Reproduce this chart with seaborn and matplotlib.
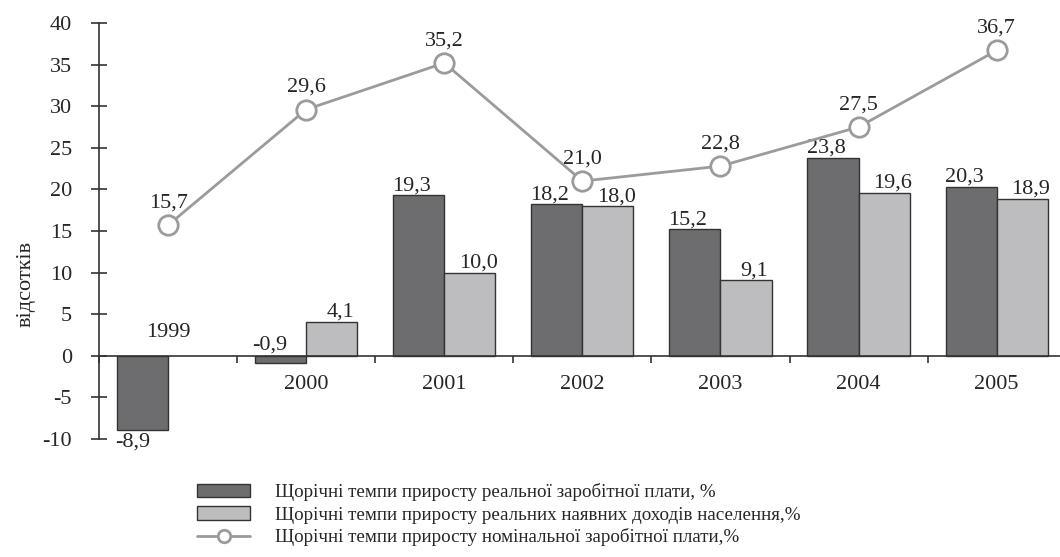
import numpy as np
import pandas as pd
import seaborn as sns
import matplotlib.pyplot as plt

years = ["1999", "2000", "2001", "2002", "2003", "2004", "2005"]
real_wage = [-8.9, -0.9, 19.3, 18.2, 15.2, 23.8, 20.3]
real_income = [np.nan, 4.1, 10.0, 18.0, 9.1, 19.6, 18.9]
nominal_wage = [15.7, 29.6, 35.2, 21.0, 22.8, 27.5, 36.7]

lbl_wage = "Щорічні темпи приросту реальної заробітної плати, %"
lbl_income = "Щорічні темпи приросту реальних наявних доходів населення,%"
lbl_nominal = "Щорічні темпи приросту номінальної заробітної плати,%"

dark = "#6c6d71"
light = "#bcbdc0"
line_c = "#9a9b9d"
edge = "#333333"

sns.set_style("white")
plt.rcParams['font.family'] = ['Liberation Serif', 'DejaVu Serif']
plt.rcParams['font.size'] = 16
plt.rcParams['axes.unicode_minus'] = False

def fmt(v):
	return f"{v:.1f}".replace(".", ",")

df = pd.DataFrame({
	"year": years * 2,
	"value": real_wage + real_income,
	"series": [lbl_wage] * len(years) + [lbl_income] * len(years),
})

fig = plt.figure(figsize=(10.6, 5.57), dpi=100)
ax = fig.add_axes([0.0934, 0.2118, 0.912, 0.7469])

sns.barplot(data=df, x="year", y="value", hue="series", palette=[dark, light],
			width=0.74, edgecolor=edge, linewidth=1.0, legend=False, ax=ax)
sns.lineplot(x=np.arange(len(years)), y=nominal_wage, color=line_c, linewidth=2,
			 marker="o", markersize=14, markerfacecolor="white",
			 markeredgecolor=line_c, markeredgewidth=2, legend=False, ax=ax, zorder=5)
nom_line = [l for l in ax.get_lines() if l.get_marker() == "o"][0]

# bar value labels
for k, cont in enumerate(ax.containers[:2]):
	dx = -5 if k == 0 else 6
	for p in cont.patches:
		h = p.get_height()
		if np.isnan(h):
			continue
		x = p.get_x() + p.get_width() / 2
		if h < -2:
			ax.annotate(fmt(h), (x, h), xytext=(dx - 2, -2), textcoords="offset points",
						ha="center", va="top")
		elif h < 0:
			ax.annotate(fmt(h), (x, 0), xytext=(dx - 3, 1), textcoords="offset points",
						ha="center", va="bottom")
		else:
			ax.annotate(fmt(h), (x, h), xytext=(dx, 0), textcoords="offset points",
						ha="center", va="bottom")

# line labels
for i, v in enumerate(nominal_wage):
	ax.annotate(fmt(v), (i, v), xytext=(0, 16), textcoords="offset points",
				ha="center", va="center")

# category labels
for i, y in enumerate(years):
	ax.text(i, 2.8 if i == 0 else -3.5, y, ha="center", va="center")

ax.set_ylim(-10, 40)
ax.set_xlim(-0.5, 6.5)
ax.set_yticks(range(-10, 41, 5))
ax.set_xticks(np.arange(-0.5, 6.6, 1))
ax.set_xticklabels([])
ax.set_xlabel("")
ax.set_ylabel("відсотків", fontsize=16)
ax.yaxis.set_label_coords(-0.066, 0.373)

for s in ["top", "right"]:
	ax.spines[s].set_visible(False)
ax.spines["bottom"].set_position(("data", 0))
ax.spines["bottom"].set_color(edge)
ax.spines["left"].set_color(edge)
ax.spines["bottom"].set_linewidth(1.2)
ax.spines["left"].set_linewidth(1.2)
ax.tick_params(axis="y", left=True, direction="inout", length=11, width=1.2, color=edge,
			   pad=14, labelsize=16)
ax.tick_params(axis="x", bottom=True, direction="out", length=5, width=1.2, color=edge)

handles = [ax.containers[0].patches[0], ax.containers[1].patches[1], nom_line]
labels = [lbl_wage, lbl_income, lbl_nominal]

fl = fig.legend(handles, labels, loc="upper left", bbox_to_anchor=(0.186, 0.132),
				frameon=False, fontsize=13.7, borderpad=0, borderaxespad=0,
				handlelength=2.8, handletextpad=1.3, labelspacing=0.25)
fl.legend_handles[2].set_markersize(9)

fig.savefig("out.png", dpi=100)
